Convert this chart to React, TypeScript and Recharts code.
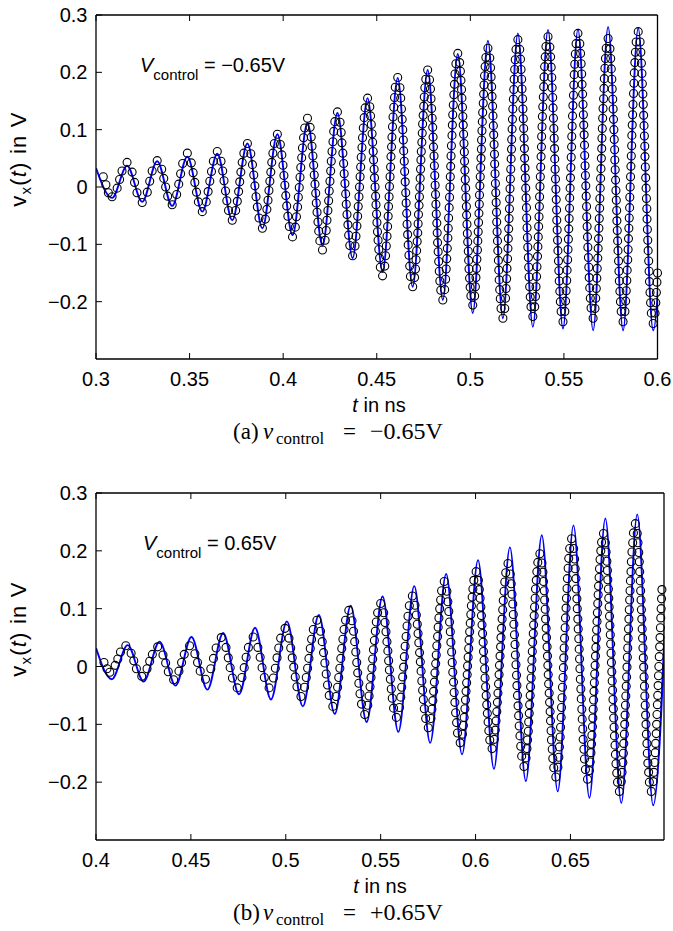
import React from 'react';
import { ComposedChart, Line, Scatter, XAxis, YAxis } from 'recharts';

const FONT = '"Liberation Sans", Arial, Helvetica, sans-serif';
const SERIF = '"Liberation Serif", "Times New Roman", serif';

const xTicksA = [0.3, 0.35, 0.4, 0.45, 0.5, 0.55, 0.6];
const xTicksB = [0.4, 0.45, 0.5, 0.55, 0.6, 0.65];
const yTicks = [-0.2, -0.1, 0, 0.1, 0.2, 0.3];
const xDomainA = [0.3, 0.6];
const xDomainB = [0.4, 0.6993];
const yDomain = [-0.3, 0.3];

// panel (a): reference curve (blue), extrema of the oscillation
const lineA: [number, number][] = [
  [.3000,.033],[.3086,-.019],[.3166,.037],[.3247,-.026],[.3327,.045],[.3407,-.033],[.3488,.053],[.3568,-.043],
  [.3648,.058],[.3728,-.058],[.3809,.076],[.3889,-.072],[.3969,.092],[.4050,-.084],[.4130,.112],[.4210,-.102],
  [.4290,.129],[.4371,-.124],[.4451,.155],[.4531,-.148],[.4612,.190],[.4692,-.174],[.4772,.204],[.4853,-.197],
  [.4933,.232],[.5013,-.220],[.5094,.255],[.5174,-.229],[.5254,.268],[.5334,-.244],[.5415,.274],[.5495,-.247],
  [.5575,.275],[.5656,-.250],[.5736,.279],[.5816,-.250],[.5897,.277],[.5977,-.250],[.6057,.278],
];

// panel (a): simulated samples (circles)
const circlesA: [number, number][] = [
  [.3039,.018],[.3053,.004],[.3066,-.010],
  [.3086,-.017],[.3113,-.002],[.3126,.013],[.3139,.028],
  [.3166,.043],[.3193,.026],[.3206,.008],[.3219,-.010],
  [.3247,-.027],[.3274,-.009],[.3287,.010],[.3300,.028],
  [.3327,.046],[.3351,.031],[.3362,.015],[.3372,.000],[.3383,-.016],
  [.3407,-.031],[.3431,-.013],[.3442,.005],[.3452,.023],[.3463,.041],
  [.3488,.059],[.3509,.042],[.3519,.025],[.3528,.008],[.3537,-.009],[.3547,-.026],
  [.3568,-.043],[.3589,-.026],[.3599,-.008],[.3608,.010],[.3617,.027],[.3627,.045],
  [.3648,.062],[.3668,.045],[.3677,.028],[.3684,.011],[.3692,-.007],[.3699,-.024],[.3708,-.041],
  [.3728,-.058],[.3746,-.041],[.3755,-.025],[.3762,-.008],[.3768,.009],[.3774,.026],[.3781,.043],[.3790,.059],
  [.3809,.076],[.3827,.058],[.3836,.039],[.3843,.021],[.3849,.002],[.3855,-.017],[.3862,-.035],[.3871,-.054],
  [.3889,-.072],[.3905,-.056],[.3913,-.039],[.3919,-.023],[.3924,-.006],[.3929,.010],[.3934,.026],[.3939,.043],[.3945,.059],[.3953,.076],
  [.3969,.092],[.3985,.074],[.3993,.056],[.3999,.038],[.4004,.020],[.4009,.003],[.4014,-.015],[.4019,-.033],[.4025,-.051],[.4033,-.069],
  [.4050,-.087],[.4065,-.070],[.4071,-.052],[.4077,-.035],[.4081,-.018],[.4086,-.001],[.4090,.017],[.4094,.034],[.4099,.051],[.4103,.068],[.4109,.086],[.4115,.103],
  [.4130,.120],[.4144,.104],[.4150,.087],[.4154,.071],[.4159,.054],[.4163,.038],[.4166,.021],[.4170,.005],[.4174,-.011],[.4177,-.028],[.4181,-.044],[.4186,-.061],[.4190,-.077],[.4196,-.094],
  [.4210,-.110],[.4224,-.093],[.4230,-.076],[.4234,-.058],[.4239,-.041],[.4243,-.024],[.4246,-.007],[.4250,.010],[.4254,.028],[.4257,.045],[.4261,.062],[.4266,.079],[.4270,.097],[.4276,.114],
  [.4290,.131],[.4304,.113],[.4310,.095],[.4314,.077],[.4319,.059],[.4323,.041],[.4326,.023],[.4330,.006],[.4334,-.012],[.4337,-.030],[.4341,-.048],[.4346,-.066],[.4350,-.084],[.4356,-.102],
  [.4371,-.120],[.4384,-.103],[.4389,-.086],[.4394,-.068],[.4398,-.051],[.4401,-.034],[.4405,-.017],[.4408,.000],[.4411,.018],[.4414,.035],[.4417,.052],[.4421,.069],[.4424,.086],[.4428,.103],[.4433,.121],[.4438,.138],
  [.4451,.155],[.4463,.140],[.4467,.124],[.4471,.109],[.4475,.093],[.4478,.078],[.4481,.062],[.4483,.047],[.4486,.031],[.4488,.016],[.4491,.000],[.4494,-.016],[.4496,-.031],[.4499,-.047],[.4501,-.062],[.4504,-.078],[.4507,-.093],[.4511,-.109],[.4515,-.124],[.4519,-.140],
  [.4531,-.155],[.4543,-.138],[.4547,-.120],[.4551,-.103],[.4555,-.086],[.4558,-.069],[.4561,-.051],[.4563,-.034],[.4566,-.017],[.4568,.001],[.4571,.018],[.4574,.035],[.4576,.053],[.4579,.070],[.4581,.087],[.4584,.105],[.4587,.122],[.4591,.139],[.4595,.156],[.4599,.174],
  [.4612,.191],[.4624,.173],[.4628,.155],[.4632,.136],[.4636,.118],[.4639,.100],[.4642,.082],[.4644,.063],[.4647,.045],[.4649,.027],[.4652,.009],[.4655,-.010],[.4657,-.028],[.4660,-.046],[.4662,-.065],[.4665,-.083],[.4668,-.101],[.4672,-.119],[.4676,-.138],[.4680,-.156],
  [.4692,-.174],[.4702,-.158],[.4707,-.143],[.4710,-.127],[.4713,-.111],[.4716,-.095],[.4719,-.080],[.4721,-.064],[.4723,-.048],[.4726,-.032],[.4728,-.017],[.4730,-.001],[.4732,.015],[.4734,.031],[.4736,.047],[.4738,.062],[.4741,.078],[.4743,.094],[.4745,.110],[.4748,.125],[.4751,.141],[.4754,.157],[.4757,.173],[.4762,.188],
  [.4772,.204],[.4782,.187],[.4787,.171],[.4790,.154],[.4793,.137],[.4796,.120],[.4799,.104],[.4801,.087],[.4803,.070],[.4806,.054],[.4808,.037],[.4810,.020],[.4812,.003],[.4814,-.013],[.4816,-.030],[.4818,-.047],[.4821,-.063],[.4823,-.080],[.4825,-.097],[.4828,-.113],[.4831,-.130],[.4834,-.147],[.4837,-.164],[.4842,-.180],
  [.4853,-.197],[.4863,-.179],[.4868,-.161],[.4871,-.143],[.4874,-.125],[.4877,-.107],[.4880,-.089],[.4882,-.072],[.4884,-.054],[.4887,-.036],[.4889,-.018],[.4891,.000],[.4893,.018],[.4895,.036],[.4897,.054],[.4899,.072],[.4902,.090],[.4904,.108],[.4906,.126],[.4909,.143],[.4912,.161],[.4915,.179],[.4918,.197],[.4923,.215],
  [.4933,.233],[.4943,.217],[.4947,.202],[.4950,.186],[.4953,.170],[.4955,.155],[.4958,.139],[.4960,.123],[.4962,.108],[.4964,.092],[.4966,.076],[.4968,.061],[.4969,.045],[.4971,.029],[.4973,.013],[.4975,-.002],[.4977,-.018],[.4979,-.034],[.4980,-.049],[.4982,-.065],[.4984,-.081],[.4986,-.096],[.4989,-.112],[.4991,-.128],[.4993,-.143],[.4996,-.159],[.4999,-.175],[.5003,-.190],
  [.5013,-.206],[.5023,-.190],[.5027,-.174],[.5030,-.158],[.5033,-.142],[.5035,-.126],[.5038,-.110],[.5040,-.094],[.5042,-.078],[.5044,-.062],[.5046,-.046],[.5048,-.030],[.5049,-.014],[.5051,.002],[.5053,.018],[.5055,.034],[.5057,.050],[.5059,.066],[.5060,.082],[.5062,.098],[.5064,.114],[.5066,.130],[.5069,.146],[.5071,.162],[.5073,.178],[.5076,.194],[.5079,.210],[.5083,.226],
  [.5094,.242],[.5104,.225],[.5108,.208],[.5111,.192],[.5114,.175],[.5116,.158],[.5119,.141],[.5121,.124],[.5123,.107],[.5125,.091],[.5127,.074],[.5129,.057],[.5130,.040],[.5132,.023],[.5134,.006],[.5136,-.010],[.5138,-.027],[.5140,-.044],[.5141,-.061],[.5143,-.078],[.5145,-.094],[.5147,-.111],[.5150,-.128],[.5152,-.145],[.5154,-.162],[.5157,-.179],[.5160,-.195],[.5164,-.212],
  [.5174,-.229],[.5184,-.212],[.5188,-.194],[.5191,-.177],[.5194,-.160],[.5196,-.142],[.5199,-.125],[.5201,-.107],[.5203,-.090],[.5205,-.073],[.5207,-.055],[.5209,-.038],[.5210,-.021],[.5212,-.003],[.5214,.014],[.5216,.031],[.5218,.049],[.5220,.066],[.5221,.083],[.5223,.101],[.5225,.118],[.5227,.136],[.5230,.153],[.5232,.170],[.5234,.188],[.5237,.205],[.5240,.222],[.5244,.240],
  [.5254,.257],[.5264,.240],[.5268,.223],[.5271,.205],[.5274,.188],[.5276,.171],[.5279,.154],[.5281,.136],[.5283,.119],[.5285,.102],[.5287,.085],[.5289,.067],[.5290,.050],[.5292,.033],[.5294,.016],[.5296,-.002],[.5298,-.019],[.5300,-.036],[.5301,-.054],[.5303,-.071],[.5305,-.088],[.5307,-.105],[.5310,-.123],[.5312,-.140],[.5314,-.157],[.5317,-.174],[.5320,-.192],[.5324,-.209],
  [.5334,-.226],[.5344,-.209],[.5348,-.191],[.5351,-.174],[.5354,-.156],[.5356,-.139],[.5359,-.121],[.5361,-.104],[.5363,-.087],[.5365,-.069],[.5367,-.052],[.5369,-.034],[.5370,-.017],[.5372,.001],[.5374,.018],[.5376,.035],[.5378,.053],[.5380,.070],[.5381,.088],[.5383,.105],[.5385,.123],[.5387,.140],[.5390,.157],[.5392,.175],[.5394,.192],[.5397,.210],[.5400,.227],[.5404,.245],
  [.5415,.262],[.5425,.244],[.5429,.227],[.5432,.209],[.5435,.191],[.5437,.173],[.5440,.156],[.5442,.138],[.5444,.120],[.5446,.102],[.5448,.085],[.5450,.067],[.5451,.049],[.5453,.031],[.5455,.014],[.5457,-.004],[.5459,-.022],[.5461,-.040],[.5462,-.058],[.5464,-.075],[.5466,-.093],[.5468,-.111],[.5471,-.129],[.5473,-.146],[.5475,-.164],[.5478,-.182],[.5481,-.200],[.5485,-.217],
  [.5495,-.235],[.5505,-.217],[.5509,-.199],[.5512,-.181],[.5515,-.163],[.5517,-.145],[.5520,-.127],[.5522,-.109],[.5524,-.091],[.5526,-.073],[.5528,-.055],[.5530,-.037],[.5531,-.019],[.5533,-.002],[.5535,.016],[.5537,.034],[.5539,.052],[.5541,.070],[.5542,.088],[.5544,.106],[.5546,.124],[.5548,.142],[.5551,.160],[.5553,.178],[.5555,.196],[.5558,.214],[.5561,.232],[.5565,.250],
  [.5575,.268],[.5585,.250],[.5589,.233],[.5592,.215],[.5595,.197],[.5597,.179],[.5600,.162],[.5602,.144],[.5604,.126],[.5606,.108],[.5608,.091],[.5610,.073],[.5611,.055],[.5613,.037],[.5615,.020],[.5617,.002],[.5619,-.016],[.5621,-.034],[.5622,-.052],[.5624,-.069],[.5626,-.087],[.5628,-.105],[.5631,-.123],[.5633,-.140],[.5635,-.158],[.5638,-.176],[.5641,-.194],[.5645,-.211],
  [.5656,-.229],[.5666,-.212],[.5670,-.194],[.5673,-.177],[.5676,-.159],[.5678,-.142],[.5681,-.124],[.5683,-.107],[.5685,-.090],[.5687,-.072],[.5689,-.055],[.5691,-.037],[.5692,-.020],[.5694,-.002],[.5696,.015],[.5698,.032],[.5700,.050],[.5702,.067],[.5703,.085],[.5705,.102],[.5707,.120],[.5709,.137],[.5712,.154],[.5714,.172],[.5716,.189],[.5719,.207],[.5722,.224],[.5726,.242],
  [.5736,.259],[.5746,.241],[.5750,.224],[.5753,.206],[.5756,.188],[.5758,.171],[.5761,.153],[.5763,.136],[.5765,.118],[.5767,.100],[.5769,.083],[.5771,.065],[.5772,.047],[.5774,.030],[.5776,.012],[.5778,-.006],[.5780,-.023],[.5782,-.041],[.5783,-.059],[.5785,-.076],[.5787,-.094],[.5789,-.111],[.5792,-.129],[.5794,-.147],[.5796,-.164],[.5799,-.182],[.5802,-.200],[.5806,-.217],
  [.5816,-.235],[.5826,-.217],[.5830,-.199],[.5833,-.181],[.5836,-.163],[.5838,-.145],[.5841,-.127],[.5843,-.109],[.5845,-.090],[.5847,-.072],[.5849,-.054],[.5851,-.036],[.5852,-.018],[.5854,.000],[.5856,.018],[.5858,.036],[.5860,.054],[.5862,.072],[.5863,.090],[.5865,.108],[.5867,.126],[.5869,.144],[.5872,.163],[.5874,.181],[.5876,.199],[.5879,.217],[.5882,.235],[.5886,.253],
  [.5897,.271],[.5907,.253],[.5911,.235],[.5914,.216],[.5917,.198],[.5919,.180],[.5922,.162],[.5924,.144],[.5926,.125],[.5928,.107],[.5930,.089],[.5932,.071],[.5933,.053],[.5935,.035],[.5937,.016],[.5939,-.002],[.5941,-.020],[.5943,-.038],[.5944,-.056],[.5946,-.074],[.5948,-.093],[.5950,-.111],[.5953,-.129],[.5955,-.147],[.5957,-.165],[.5960,-.184],[.5963,-.202],[.5967,-.220],
  [.5977,-.238],[.5987,-.220],[.5991,-.202],[.5994,-.184],[.5997,-.166],[.6000,-.150],
];

// panel (b): reference curve (blue)
const lineB: [number, number][] = [
  [.4000,.032],[.4083,-.022],[.4167,.037],[.4251,-.026],[.4335,.043],[.4419,-.033],[.4503,.051],[.4587,-.040],
  [.4670,.058],[.4754,-.048],[.4838,.067],[.4922,-.057],[.5006,.078],[.5090,-.069],[.5174,.089],[.5258,-.082],
  [.5342,.105],[.5426,-.096],[.5510,.121],[.5593,-.113],[.5677,.139],[.5761,-.132],[.5845,.160],[.5929,-.152],
  [.6013,.184],[.6097,-.177],[.6181,.206],[.6265,-.198],[.6349,.227],[.6433,-.216],[.6516,.244],[.6600,-.227],
  [.6684,.256],[.6768,-.236],[.6852,.263],[.6936,-.240],[.7020,.266],
];

// panel (b): simulated samples (circles)
const circlesB: [number, number][] = [
  [.4042,.007],[.4058,-.004],
  [.4073,-.010],[.4101,.002],[.4115,.013],[.4129,.025],
  [.4157,.036],[.4185,.023],[.4199,.010],[.4213,-.004],
  [.4241,-.017],[.4269,-.004],[.4283,.009],[.4297,.021],
  [.4325,.034],[.4353,.020],[.4367,.006],[.4381,-.009],
  [.4409,-.023],[.4437,-.008],[.4451,.007],[.4465,.021],
  [.4493,.036],[.4521,.022],[.4535,.007],[.4549,-.008],
  [.4577,-.022],[.4605,-.004],[.4619,.014],[.4633,.032],
  [.4660,.050],[.4685,.033],[.4697,.015],[.4707,-.002],[.4719,-.020],
  [.4744,-.037],[.4769,-.019],[.4781,-.002],[.4791,.016],[.4803,.033],
  [.4828,.051],[.4853,.033],[.4865,.016],[.4875,-.002],[.4887,-.019],
  [.4912,-.037],[.4935,-.020],[.4945,-.003],[.4954,.015],[.4963,.032],[.4973,.049],
  [.4996,.066],[.5017,.049],[.5026,.032],[.5034,.015],[.5042,-.001],[.5050,-.018],[.5059,-.035],
  [.5080,-.052],[.5099,-.036],[.5108,-.019],[.5115,-.003],[.5122,.014],[.5129,.031],[.5136,.047],[.5145,.064],
  [.5164,.080],[.5183,.061],[.5192,.043],[.5199,.024],[.5206,.006],[.5213,-.013],[.5220,-.032],[.5229,-.050],
  [.5248,-.069],[.5265,-.052],[.5273,-.036],[.5279,-.019],[.5285,-.003],[.5290,.014],[.5295,.031],[.5301,.047],[.5307,.064],[.5315,.080],
  [.5332,.097],[.5349,.079],[.5357,.061],[.5363,.043],[.5369,.025],[.5374,.007],[.5379,-.011],[.5385,-.029],[.5391,-.047],[.5399,-.065],
  [.5416,-.083],[.5432,-.067],[.5439,-.051],[.5444,-.035],[.5449,-.019],[.5454,-.003],[.5458,.013],[.5462,.029],[.5467,.045],[.5472,.061],[.5477,.077],[.5484,.093],
  [.5500,.109],[.5516,.093],[.5523,.076],[.5528,.060],[.5533,.043],[.5538,.027],[.5542,.010],[.5546,-.006],[.5551,-.022],[.5556,-.039],[.5561,-.055],[.5568,-.072],
  [.5583,-.088],[.5599,-.071],[.5606,-.053],[.5611,-.036],[.5616,-.018],[.5621,-.001],[.5625,.017],[.5629,.035],[.5634,.052],[.5639,.070],[.5644,.087],[.5651,.105],
  [.5667,.122],[.5681,.106],[.5688,.089],[.5693,.073],[.5697,.057],[.5701,.041],[.5705,.024],[.5709,.008],[.5713,-.008],[.5717,-.025],[.5721,-.041],[.5725,-.057],[.5730,-.073],[.5737,-.090],
  [.5751,-.106],[.5765,-.090],[.5770,-.074],[.5775,-.059],[.5779,-.043],[.5783,-.027],[.5786,-.011],[.5790,.005],[.5793,.020],[.5796,.036],[.5800,.052],[.5803,.068],[.5807,.084],[.5811,.100],[.5816,.115],[.5821,.131],
  [.5835,.147],[.5849,.130],[.5854,.112],[.5859,.095],[.5863,.077],[.5867,.060],[.5870,.042],[.5874,.025],[.5877,.007],[.5880,-.010],[.5884,-.027],[.5887,-.045],[.5891,-.062],[.5895,-.080],[.5900,-.097],[.5905,-.115],
  [.5919,-.132],[.5931,-.117],[.5936,-.102],[.5940,-.088],[.5944,-.073],[.5947,-.058],[.5950,-.043],[.5953,-.028],[.5956,-.014],[.5958,.001],[.5961,.016],[.5964,.031],[.5966,.046],[.5969,.060],[.5972,.075],[.5975,.090],[.5978,.105],[.5982,.120],[.5986,.134],[.5991,.149],
  [.6003,.164],[.6015,.149],[.6020,.133],[.6024,.118],[.6028,.103],[.6031,.088],[.6034,.072],[.6037,.057],[.6040,.042],[.6042,.026],[.6045,.011],[.6048,-.004],[.6050,-.020],[.6053,-.035],[.6056,-.050],[.6059,-.066],[.6062,-.081],[.6066,-.096],[.6070,-.111],[.6075,-.127],
  [.6087,-.142],[.6099,-.126],[.6104,-.110],[.6108,-.094],[.6112,-.078],[.6115,-.062],[.6118,-.046],[.6121,-.030],[.6124,-.014],[.6126,.002],[.6129,.018],[.6132,.034],[.6134,.050],[.6137,.066],[.6140,.082],[.6143,.098],[.6146,.114],[.6150,.130],[.6154,.146],[.6159,.162],
  [.6171,.178],[.6183,.160],[.6188,.143],[.6192,.125],[.6196,.108],[.6199,.090],[.6202,.073],[.6205,.055],[.6208,.038],[.6210,.020],[.6213,.003],[.6216,-.015],[.6218,-.033],[.6221,-.050],[.6224,-.068],[.6227,-.085],[.6230,-.103],[.6234,-.120],[.6238,-.138],[.6243,-.155],
  [.6255,-.173],[.6266,-.158],[.6271,-.142],[.6274,-.127],[.6278,-.112],[.6280,-.096],[.6283,-.081],[.6285,-.066],[.6288,-.050],[.6290,-.035],[.6293,-.020],[.6295,-.004],[.6297,.011],[.6299,.026],[.6301,.042],[.6304,.057],[.6306,.072],[.6309,.088],[.6311,.103],[.6314,.118],[.6316,.134],[.6320,.149],[.6323,.164],[.6328,.180],
  [.6339,.195],[.6350,.179],[.6355,.163],[.6358,.147],[.6362,.131],[.6364,.115],[.6367,.099],[.6369,.082],[.6372,.066],[.6374,.050],[.6377,.034],[.6379,.018],[.6381,.002],[.6383,-.014],[.6385,-.030],[.6388,-.046],[.6390,-.062],[.6393,-.078],[.6395,-.094],[.6398,-.111],[.6400,-.127],[.6404,-.143],[.6407,-.159],[.6412,-.175],
  [.6423,-.191],[.6434,-.174],[.6439,-.157],[.6442,-.139],[.6446,-.122],[.6448,-.105],[.6451,-.088],[.6453,-.071],[.6456,-.054],[.6458,-.036],[.6461,-.019],[.6463,-.002],[.6465,.015],[.6467,.032],[.6469,.049],[.6472,.067],[.6474,.084],[.6477,.101],[.6479,.118],[.6482,.135],[.6484,.152],[.6488,.170],[.6491,.187],[.6496,.204],
  [.6506,.221],[.6517,.204],[.6522,.186],[.6525,.169],[.6529,.152],[.6531,.134],[.6534,.117],[.6536,.100],[.6539,.082],[.6541,.065],[.6544,.048],[.6546,.030],[.6548,.013],[.6550,-.004],[.6552,-.022],[.6555,-.039],[.6557,-.056],[.6560,-.074],[.6562,-.091],[.6565,-.108],[.6567,-.126],[.6571,-.143],[.6574,-.160],[.6579,-.178],
  [.6590,-.195],[.6600,-.180],[.6604,-.165],[.6608,-.149],[.6611,-.134],[.6613,-.119],[.6616,-.104],[.6618,-.089],[.6620,-.074],[.6622,-.058],[.6624,-.043],[.6626,-.028],[.6628,-.013],[.6630,.002],[.6632,.018],[.6634,.033],[.6636,.048],[.6638,.063],[.6640,.078],[.6642,.093],[.6644,.109],[.6646,.124],[.6648,.139],[.6651,.154],[.6653,.169],[.6656,.185],[.6660,.200],[.6664,.215],
  [.6674,.230],[.6684,.214],[.6688,.198],[.6692,.182],[.6695,.166],[.6697,.150],[.6700,.134],[.6702,.118],[.6704,.103],[.6706,.087],[.6708,.071],[.6710,.055],[.6712,.039],[.6714,.023],[.6716,.007],[.6718,-.009],[.6720,-.025],[.6722,-.041],[.6724,-.057],[.6726,-.073],[.6728,-.089],[.6730,-.105],[.6732,-.120],[.6735,-.136],[.6737,-.152],[.6740,-.168],[.6744,-.184],[.6748,-.200],
  [.6758,-.216],[.6768,-.199],[.6772,-.183],[.6776,-.166],[.6779,-.150],[.6781,-.133],[.6784,-.117],[.6786,-.100],[.6788,-.084],[.6790,-.067],[.6792,-.051],[.6794,-.034],[.6796,-.018],[.6798,-.001],[.6800,.016],[.6802,.032],[.6804,.049],[.6806,.065],[.6808,.082],[.6810,.098],[.6812,.115],[.6814,.131],[.6816,.148],[.6819,.164],[.6821,.181],[.6824,.198],[.6828,.214],[.6832,.231],
  [.6842,.247],[.6852,.230],[.6856,.214],[.6860,.197],[.6863,.181],[.6865,.164],[.6868,.148],[.6870,.131],[.6872,.115],[.6874,.098],[.6876,.082],[.6878,.065],[.6880,.049],[.6882,.032],[.6884,.015],[.6886,-.001],[.6888,-.018],[.6890,-.034],[.6892,-.051],[.6894,-.067],[.6896,-.084],[.6898,-.100],[.6900,-.117],[.6903,-.133],[.6905,-.150],[.6908,-.167],[.6912,-.183],[.6916,-.200],
  [.6926,-.216],[.6936,-.199],[.6940,-.183],[.6944,-.166],[.6947,-.149],[.6949,-.133],[.6952,-.116],[.6954,-.100],[.6956,-.083],[.6958,-.066],[.6960,-.050],[.6962,-.033],[.6964,-.016],[.6966,.000],[.6968,.017],[.6970,.034],[.6972,.050],[.6974,.067],[.6976,.084],[.6978,.100],[.6980,.117],[.6982,.133],
];

const toRows = (arr: [number, number][]) => arr.map(([t, v]) => ({ t, v }));

const fmt = (v: number) => (v === 0 ? '0' : (v < 0 ? '\u2212' : '') + String(Math.abs(v)));

const NoTick = () => <g />;

const CircleMark = (props: any) => {
  const { cx, cy } = props;
  if (cx == null || cy == null) return <g />;
  return <circle cx={cx} cy={cy} r={4} fill="none" stroke="#000" strokeWidth={1.1} />;
};

const tickStyle = { fontSize: 20, fill: '#000', fontFamily: FONT };

function Panel(props: {
  top: number;
  height: number;
  margin: { top: number; right: number; bottom: number; left: number };
  xDomain: number[];
  xTicks: number[];
  line: [number, number][];
  circles: [number, number][];
}) {
  const { top, height, margin, xDomain, xTicks, line, circles } = props;
  return (
    <div style={{ position: 'absolute', left: 0, top }}>
      <ComposedChart width={673} height={height} margin={margin}>
        <XAxis
          xAxisId="bottom"
          type="number"
          dataKey="t"
          orientation="bottom"
          domain={xDomain}
          ticks={xTicks}
          allowDataOverflow
          interval={0}
          height={60}
          tickSize={-6}
          tickMargin={19}
          tick={tickStyle}
          tickFormatter={fmt}
          axisLine={{ stroke: '#000', strokeWidth: 1.3 }}
          tickLine={{ stroke: '#000', strokeWidth: 1 }}
        />
        <XAxis
          xAxisId="top"
          type="number"
          dataKey="t"
          orientation="top"
          domain={xDomain}
          ticks={xTicks}
          interval={0}
          height={1}
          tickSize={-6}
          tick={NoTick}
          axisLine={{ stroke: '#000', strokeWidth: 1.3 }}
          tickLine={{ stroke: '#000', strokeWidth: 1 }}
        />
        <YAxis
          yAxisId="left"
          type="number"
          dataKey="v"
          orientation="left"
          domain={yDomain}
          ticks={yTicks}
          interval={0}
          width={96}
          tickSize={-6}
          tickMargin={14.5}
          tick={tickStyle}
          tickFormatter={fmt}
          axisLine={{ stroke: '#000', strokeWidth: 1.3 }}
          tickLine={{ stroke: '#000', strokeWidth: 1 }}
        />
        <YAxis
          yAxisId="right"
          type="number"
          orientation="right"
          domain={yDomain}
          ticks={yTicks}
          interval={0}
          width={1}
          tickSize={-6}
          tick={NoTick}
          axisLine={{ stroke: '#000', strokeWidth: 1.3 }}
          tickLine={{ stroke: '#000', strokeWidth: 1 }}
        />
        <Line
          xAxisId="bottom"
          yAxisId="left"
          data={toRows(line)}
          dataKey="v"
          type="monotone"
          stroke="#0000ff"
          strokeWidth={1.9}
          dot={false}
          activeDot={false}
          isAnimationActive={false}
        />
        <Scatter
          xAxisId="top"
          yAxisId="left"
          data={toRows(circles)}
          dataKey="v"
          shape={CircleMark}
          isAnimationActive={false}
        />
      </ComposedChart>
    </div>
  );
}

function YLabel({ cy }: { cy: number }) {
  return (
    <text
      transform="rotate(-90)"
      x={-cy}
      y={26}
      textAnchor="middle"
      fontSize={22}
      fontFamily={FONT}
      fill="#000"
      style={{ letterSpacing: '1.2px' }}
    >
      v<tspan fontSize={15} dy={5}>x</tspan>
      <tspan dy={-5}>(</tspan>
      <tspan fontStyle="italic">t</tspan>) in V
    </text>
  );
}

function Caption({ y, tag, value }: { y: number; tag: string; value: string }) {
  const s = { fontFamily: SERIF, fill: '#000' } as const;
  return (
    <g>
      <text x={233} y={y} fontSize={23} {...s}>({tag})</text>
      <text x={263} y={y} fontSize={23} fontStyle="italic" {...s}>v</text>
      <text x={276} y={y + 5} fontSize={17} {...s}>control</text>
      <text x={343} y={y} fontSize={23} {...s}>=</text>
      <text x={370} y={y} fontSize={24} {...s}>{value}</text>
    </g>
  );
}

function Texts() {
  const t = { fontFamily: FONT, fill: '#000' } as const;
  return (
    <svg width={673} height={931} style={{ position: 'absolute', left: 0, top: 0, pointerEvents: 'none' }}>
      {/* panel (a) */}
      <YLabel cy={159} />
      <text x={140} y={71.5} fontSize={20} {...t}>
        <tspan fontStyle="italic">V</tspan>
        <tspan fontSize={15} dy={8}>control</tspan>
        <tspan dy={-8}> = {'\u2212'}0.65V</tspan>
      </text>
      <text x={379} y={411.5} textAnchor="middle" fontSize={20} {...t}>
        <tspan fontStyle="italic">t</tspan> in ns
      </text>
      <Caption y={439} tag="a" value={'\u22120.65V'} />

      {/* panel (b) */}
      <YLabel cy={629} />
      <text x={143} y={550} fontSize={20} {...t}>
        <tspan fontStyle="italic">V</tspan>
        <tspan fontSize={15} dy={8}>control</tspan>
        <tspan dy={-8}> = 0.65V</tspan>
      </text>
      <text x={380} y={892.5} textAnchor="middle" fontSize={20} {...t}>
        <tspan fontStyle="italic">t</tspan> in ns
      </text>
      <Caption y={920} tag="b" value="+0.65V" />
    </svg>
  );
}

export default function App() {
  return (
    <div style={{ position: 'absolute', left: 0, top: 0, width: 673, height: 931, background: '#fff' }}>
      <Panel
        top={0}
        height={440}
        margin={{ top: 14, right: 14.5, bottom: 21, left: 0 }}
        xDomain={xDomainA}
        xTicks={xTicksA}
        line={lineA}
        circles={circlesA}
      />
      <Panel
        top={478}
        height={440}
        margin={{ top: 14, right: 8, bottom: 18, left: 0 }}
        xDomain={xDomainB}
        xTicks={xTicksB}
        line={lineB}
        circles={circlesB}
      />
      <Texts />
    </div>
  );
}
